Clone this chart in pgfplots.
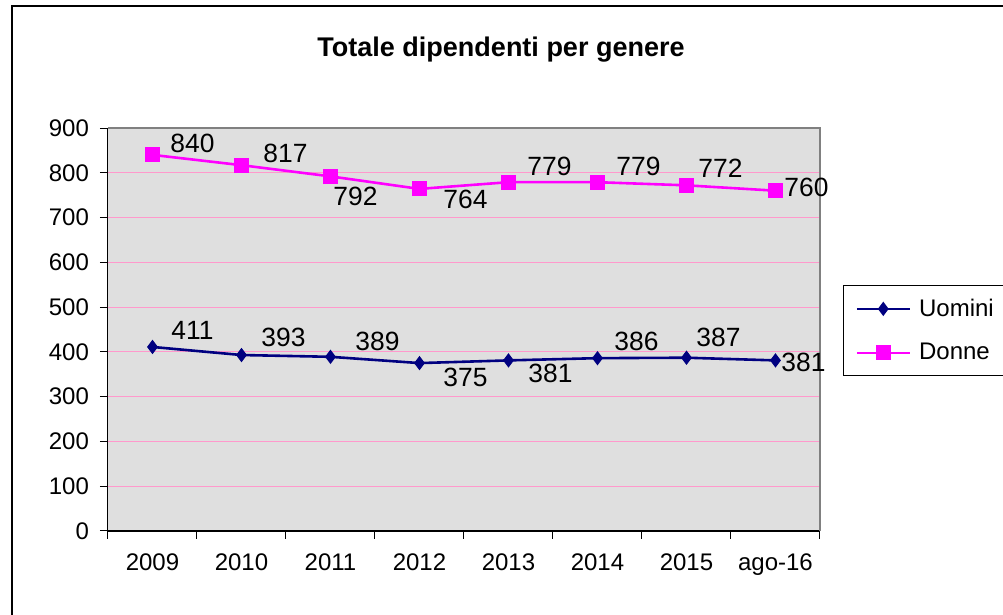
\documentclass[border=0pt]{standalone}
\usepackage{fontspec}
\setmainfont{Liberation Sans}
\usepackage{pgfplots}
\usepackage{pgfplotstable}
\pgfplotsset{compat=1.18}

\definecolor{cUomini}{RGB}{0,0,128}
\definecolor{cDonne}{RGB}{255,0,255}
\definecolor{griglia}{RGB}{255,153,204}
\definecolor{fondo}{RGB}{223,223,223}
\definecolor{bordo}{RGB}{128,128,128}

% x = category index, lx/ly = label offset (pt)
\pgfplotstableread{
x y lx ly
0 411 20 8.5
1 393 21 9
2 389 23.5 7.5
3 375 23 -7
4 381 21 -6.5
5 386 19.5 8.5
6 387 16 10
7 381 14 -1
}\tabU

\pgfplotstableread{
x y lx ly
0 840 20 5.5
1 817 22 6
2 792 12.5 -10
3 764 23 -5.5
4 779 20.5 8
5 779 20.5 8
6 772 17 8.5
7 760 15.5 1.5
}\tabD

\begin{document}
\begin{tikzpicture}
\useasboundingbox (-54pt,-42pt) rectangle (447.5pt,265.5pt);
\begin{axis}[
  at={(0,0)}, anchor=south west,
  scale only axis,
  width=356pt, height=201.5pt,
  xmin=-0.5, xmax=7.5,
  ymin=0, ymax=900,
  axis x line*=bottom, axis y line*=left,
  x axis line style={-, black, line width=1pt},
  y axis line style={-, black, line width=0.5pt},
  axis background/.style={fill=fondo},
  /pgf/number format/assume math mode=true,
  tick label style={font=\fontsize{12}{14}\selectfont},
  ytick={0,100,...,900},
  xtick={0,...,7},
  xticklabels={2009,2010,2011,2012,2013,2014,2015,ago-16},
  major x tick style={draw=none},
  minor xtick={-0.5,0.5,...,7.5},
  minor x tick style={black, line width=0.5pt},
  y tick style={black, line width=0.5pt},
  tick align=outside,
  major tick length=4pt, minor tick length=4pt,
  xticklabel style={yshift=-4pt},
  yticklabel style={xshift=-2pt},
  ymajorgrids,
  major grid style={griglia, line width=0.5pt},
  title={Totale dipendenti per genere},
  title style={font=\bfseries\fontsize{13.5}{16}\selectfont,
    at={(axis description cs:0.552,1.166)}, anchor=center},
  legend style={at={(axis description cs:1.0323,0.61)}, anchor=north west,
    draw=black, line width=0.5pt, fill=white,
    font=\fontsize{12}{14}\selectfont,
    inner xsep=6pt, inner ysep=4.5pt, row sep=8pt,
    nodes={inner xsep=4pt}},
  legend cell align=left,
  legend image code/.code={
    \draw[mark repeat=2, mark phase=2, #1]
      plot coordinates {(0pt,0pt) (13.25pt,0pt) (26.5pt,0pt)};},
  nodes near coords,
  visualization depends on={\thisrow{lx} \as \lx},
  visualization depends on={\thisrow{ly} \as \ly},
  every node near coord/.append style={anchor=center, text=black,
    xshift=\lx pt, yshift=\ly pt, font=\fontsize{13.2}{15}\selectfont},
  clip=false,
]
\addplot[cUomini, line width=1.3pt, mark=diamond*, mark size=3.2pt,
  mark options={fill=cUomini, line width=0.5pt}] table[x=x, y=y] {\tabU};
\addlegendentry{Uomini}
\addplot[cDonne, line width=1.3pt, mark=square*, mark size=3.5pt,
  mark options={fill=cDonne, line width=0.5pt}] table[x=x, y=y] {\tabD};
\addlegendentry{Donne}
\draw[bordo, line width=1.2pt] (rel axis cs:0,1) -- (rel axis cs:1,1) -- (rel axis cs:1,0);
\end{axis}
\draw[black, line width=1pt] (-48pt,-42pt) -- (-48pt,262.5pt) -- (447.5pt,262.5pt);
\end{tikzpicture}
\end{document}
